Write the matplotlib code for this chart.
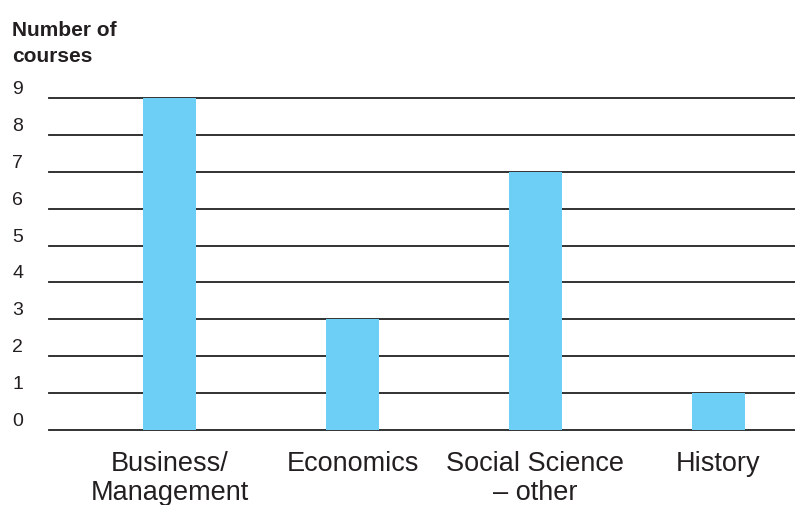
import matplotlib.pyplot as plt

plt.rcParams['font.family'] = ['Liberation Sans', 'DejaVu Sans']

categories = ['Business/\nManagement', 'Economics', 'Social Science\n\u2013 other', 'History']
courses = [9, 3, 7, 1]
yticks = list(range(0, 10))
title_lines = ['Number of', 'courses']

BAR_COLOR = '#6dcff6'
LINE_COLOR = '#222222'
TEXT_COLOR = '#231f20'


def main():
    fig = plt.figure(figsize=(7.95, 5.05), dpi=100)
    ax = fig.add_axes([49 / 795, 1 - 430 / 505, 1 - 49 / 795, (430 - 98) / 505])

    x = range(len(categories))
    ax.bar(x, courses, width=0.29, color=BAR_COLOR, zorder=3)

    ax.set_xlim(-0.662, 3.42)
    ax.set_ylim(0, 9)
    ax.set_yticks(yticks)
    ax.set_xticks(list(x))
    ax.set_xticklabels(categories, fontsize=19.5, linespacing=1.17, color=TEXT_COLOR)

    ax.grid(axis='y', color=LINE_COLOR, linewidth=1.3, zorder=1)
    ax.grid(axis='x', visible=False)
    for line in ax.get_ygridlines():
        line.set_clip_on(False)

    for s in ax.spines.values():
        s.set_visible(False)

    ax.tick_params(axis='both', length=0)
    ax.tick_params(axis='x', pad=15)
    ax.tick_params(axis='y', pad=26.5, labelsize=14, labelcolor=TEXT_COLOR)
    for lab in ax.get_yticklabels():
        lab.set_horizontalalignment('left')
        lab.set_verticalalignment('bottom')

    # axis title, two lines on fixed baselines
    for i, t in enumerate(title_lines):
        fig.text(12 / 795, 1 - (36 + 26.5 * i) / 505, t, fontsize=15, fontweight='bold',
                 color=TEXT_COLOR, ha='left', va='baseline')

    fig.savefig('out.png', dpi=100)


if __name__ == "__main__":
    main()
